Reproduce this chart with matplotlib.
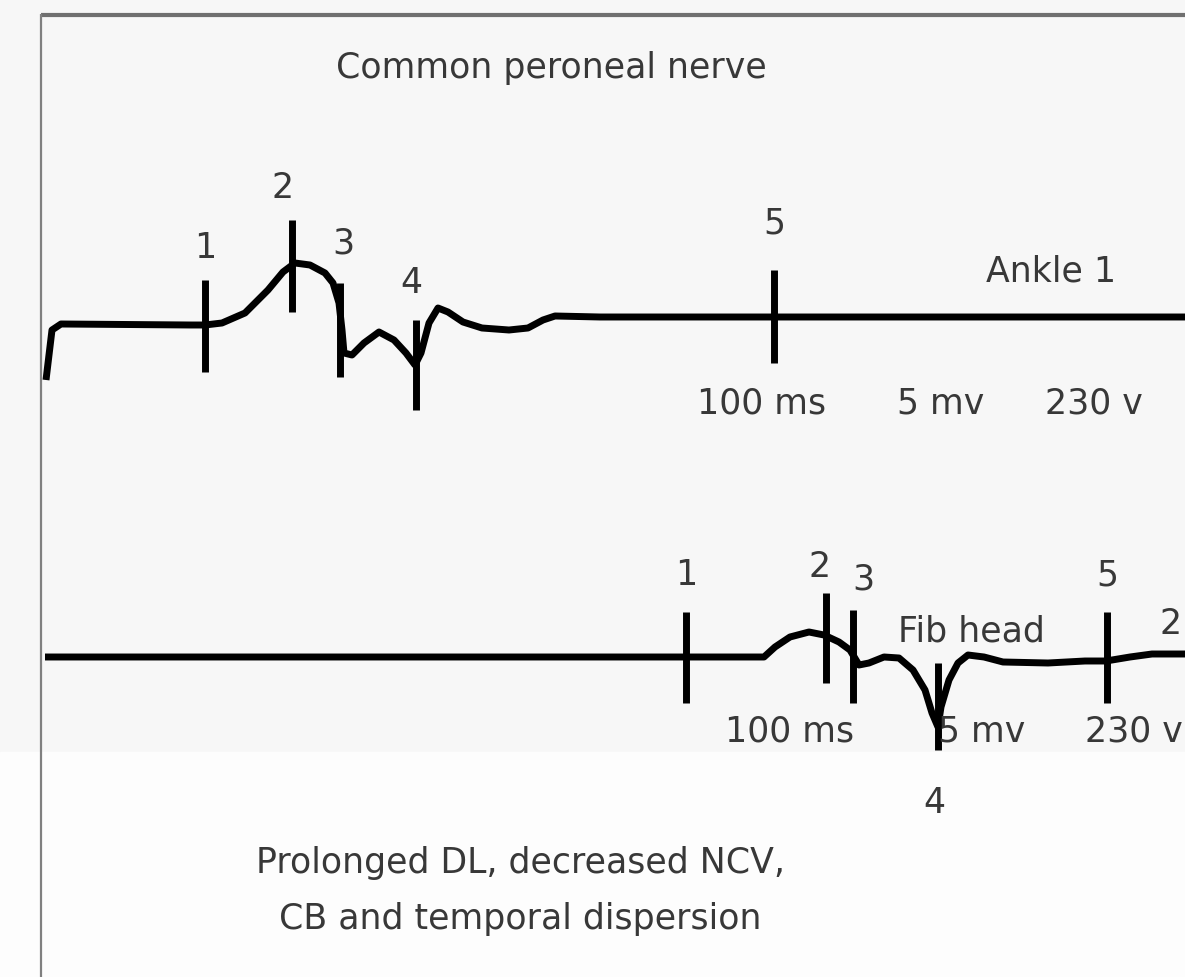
import matplotlib
matplotlib.use("Agg")
import matplotlib.pyplot as plt
import numpy as np

# trace 1 (Ankle 1) in pixel units
ankle_x = [46, 52, 61, 191, 205, 222, 245, 268, 283, 295, 310, 325, 333, 339, 342, 344,
           352, 364, 379, 394, 406, 415, 421, 429, 438, 448, 463, 482, 509, 528, 543, 555,
           600, 1185]
ankle_y = [380, 330, 324, 325, 325, 323, 313, 290, 272, 263, 265, 273, 283, 303, 330, 353,
           355, 343, 332, 340, 353, 365, 353, 323, 308, 312, 322, 328, 330, 328, 320, 316,
           317, 317]

# trace 2 (Fib head)
fib_x = [45, 764, 775, 790, 809, 824, 839, 850, 859, 869, 884, 899, 913, 925, 932, 938,
         941, 949, 958, 968, 984, 1003, 1048, 1085, 1106, 1130, 1152, 1185]
fib_y = [657, 657, 647, 637, 632, 635, 642, 650, 665, 663, 657, 658, 670, 690, 713, 727,
         707, 680, 663, 655, 657, 662, 663, 661, 661, 657, 654, 654]

# vertical marks: x, top, bottom
ankle_marks = [(205, 280, 372), (292, 220, 312), (340, 283, 377), (416, 320, 410), (774, 270, 363)]
fib_marks = [(686, 612, 703), (826, 593, 683), (853, 610, 703), (938, 663, 750), (1107, 612, 703)]
mark_labels = ["1", "2", "3", "4", "5"]
ankle_label_pos = [(205, 248), (283, 188), (343, 243), (411, 283), (774, 224)]
fib_label_pos = [(686, 575), (820, 567), (863, 579), (934, 803), (1107, 575)]

settings = ["100 ms", "5 mv", "230 v"]
ankle_settings_x = [762, 941, 1094]
fib_settings_x = [790, 982, 1134]

W, H = 1185, 977
fig = plt.figure(figsize=(W / 100, H / 100), dpi=100)
fig.patch.set_facecolor("#f7f7f7")
ax = fig.add_axes([0, 0, 1, 1])
ax.set_xlim(0, W)
ax.set_ylim(H, 0)
ax.axis("off")

ax.axhspan(752, H, color="#fdfdfd", zorder=0)

# frame
ax.plot([41, W], [15, 15], color="#707070", lw=3, solid_capstyle="butt")
ax.plot([41, 41], [14, H], color="#808080", lw=1.6, solid_capstyle="butt")

txt = dict(color="#383838", fontsize=25, family="DejaVu Sans", ha="center", va="center")
ink = dict(color="black", lw=5, solid_capstyle="butt", solid_joinstyle="round", zorder=3)

ax.plot(ankle_x, ankle_y, **ink)
ax.plot(fib_x, fib_y, **ink)
for x, y0, y1 in ankle_marks + fib_marks:
    ax.plot([x, x], [y0, y1], **ink)

for lab, (x, y) in zip(mark_labels, ankle_label_pos):
    ax.text(x, y, lab, **txt)
for lab, (x, y) in zip(mark_labels, fib_label_pos):
    ax.text(x, y, lab, **txt)

for s, x in zip(settings, ankle_settings_x):
    ax.text(x, 404, s, **txt)
for s, x in zip(settings, fib_settings_x):
    ax.text(x, 731, s, **txt)

ax.text(551, 68, "Common peroneal nerve", **txt)
ax.text(1051, 272, "Ankle 1", **txt)
ax.text(971, 631, "Fib head", **txt)
ax.text(1171, 624, "2", **txt)
ax.text(520, 863, "Prolonged DL, decreased NCV,", **txt)
ax.text(520, 919, "CB and temporal dispersion", **txt)

fig.savefig("out.png", dpi=100, facecolor=fig.get_facecolor())
